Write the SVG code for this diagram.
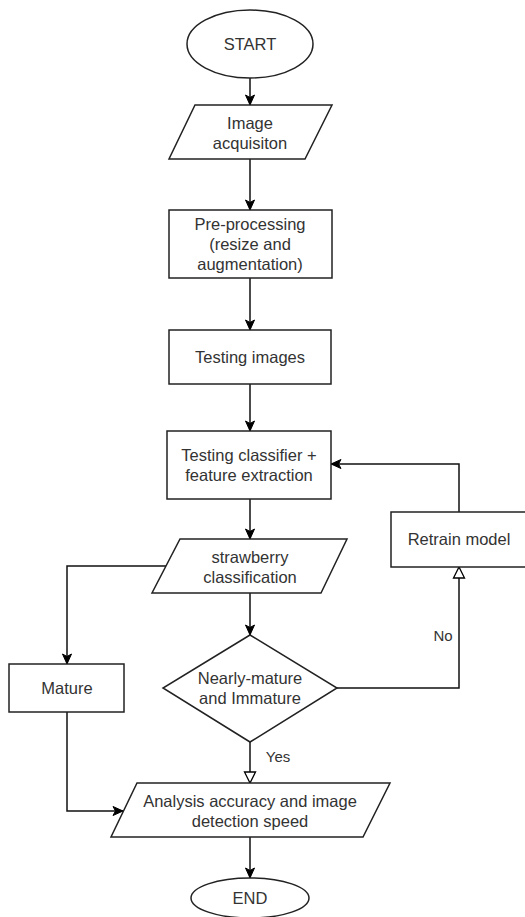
<svg xmlns="http://www.w3.org/2000/svg" width="525" height="917" viewBox="0 0 525 917">
<defs>
<marker id="arr" markerUnits="userSpaceOnUse" markerWidth="12" markerHeight="12" viewBox="0 0 12 12" refX="11" refY="6" orient="auto">
<path d="M1,1.5 L11,6 L1,10.5 L3.5,6 Z" fill="#000" stroke="#000" stroke-width="1"/>
</marker>
<marker id="open" markerUnits="userSpaceOnUse" markerWidth="14" markerHeight="14" viewBox="0 0 14 14" refX="12" refY="7" orient="auto">
<path d="M1,1.5 L12,7 L1,12.5 Z" fill="#fff" stroke="#000" stroke-width="1.3"/>
</marker>
</defs>
<style>
.s{fill:#fff;stroke:#222;stroke-width:1.5}
.t{font-family:"Liberation Sans",Arial,sans-serif;font-size:16.5px;fill:#333;text-anchor:middle;dominant-baseline:central}
.l{font-family:"Liberation Sans",Arial,sans-serif;font-size:15px;fill:#333;text-anchor:middle;dominant-baseline:central}
.c{fill:none;stroke:#111;stroke-width:1.5}
</style>
<rect width="525" height="917" fill="#fff"/>
<g id="connectors">
<path class="c" d="M250,78 V105" marker-end="url(#arr)"/>
<path class="c" d="M250,159 V210" marker-end="url(#arr)"/>
<path class="c" d="M250,278 V330" marker-end="url(#arr)"/>
<path class="c" d="M250,384 V431" marker-end="url(#arr)"/>
<path class="c" d="M250,499 V539" marker-end="url(#arr)"/>
<path class="c" d="M250,593 V635" marker-end="url(#arr)"/>
<path class="c" d="M166,566 H67 V664" marker-end="url(#arr)"/>
<path class="c" d="M337,688 H459 V567" marker-end="url(#open)"/>
<path class="c" d="M459,512 V464 H331" marker-end="url(#arr)"/>
<path class="c" d="M250,742 V783" marker-end="url(#open)"/>
<path class="c" d="M67,712 V811 H123" marker-end="url(#arr)"/>
<path class="c" d="M250,837 V878" marker-end="url(#arr)"/>
<text class="l" x="443" y="635">No</text>
<text class="l" x="278" y="756">Yes</text>
</g>
<g id="start">
<ellipse class="s" cx="250" cy="44" rx="63" ry="34"/>
<text class="t" x="250" y="44">START</text>
</g>
<g id="image-acquisition">
<polygon class="s" points="195,105 332,105 305,159 169,159"/>
<text class="t" x="250" y="123">Image</text>
<text class="t" x="250" y="143">acquisiton</text>
</g>
<g id="pre-processing">
<rect class="s" x="169" y="210" width="163" height="68"/>
<text class="t" x="250" y="224">Pre-processing</text>
<text class="t" x="250" y="244">(resize and</text>
<text class="t" x="250" y="264">augmentation)</text>
</g>
<g id="testing-images">
<rect class="s" x="169" y="330" width="162" height="54"/>
<text class="t" x="250" y="357">Testing images</text>
</g>
<g id="testing-classifier">
<rect class="s" x="167" y="431" width="164" height="68"/>
<text class="t" x="249" y="455">Testing classifier +</text>
<text class="t" x="249" y="475">feature extraction</text>
</g>
<g id="retrain-model">
<rect class="s" x="391" y="512" width="136" height="55"/>
<text class="t" x="459" y="539">Retrain model</text>
</g>
<g id="strawberry-classification">
<polygon class="s" points="180,539 347,539 321,593 152,593"/>
<text class="t" x="250" y="557">strawberry</text>
<text class="t" x="250" y="577">classification</text>
</g>
<g id="mature">
<rect class="s" x="9" y="664" width="115" height="48"/>
<text class="t" x="67" y="688">Mature</text>
</g>
<g id="decision">
<polygon class="s" points="250,635 337,688 250,742 163,688"/>
<text class="t" x="250" y="678">Nearly-mature</text>
<text class="t" x="250" y="698">and Immature</text>
</g>
<g id="analysis">
<polygon class="s" points="137,783 390,783 363,837 111,837"/>
<text class="t" x="250" y="801">Analysis accuracy and image</text>
<text class="t" x="250" y="821">detection speed</text>
</g>
<g id="end">
<ellipse class="s" cx="250" cy="898" rx="59" ry="20"/>
<text class="t" x="250" y="898">END</text>
</g>
</svg>
